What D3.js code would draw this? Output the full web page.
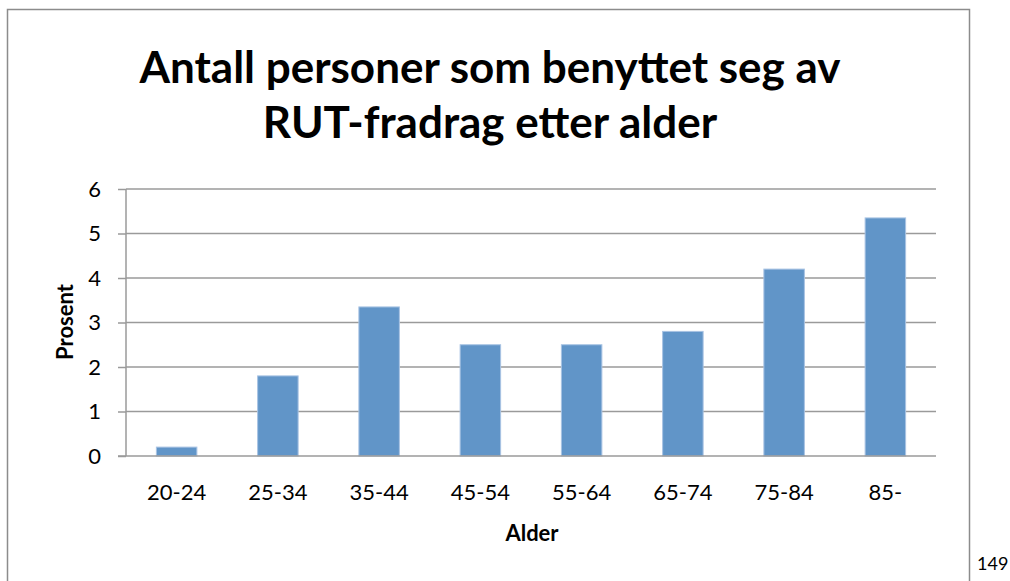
<!DOCTYPE html>
<html>
<head>
<meta charset="utf-8">
<script src="https://cdn.jsdelivr.net/npm/d3@7"></script>
<style>
  html, body { margin: 0; padding: 0; background: #fff; }
  svg { display: block; font-family: Lato, "Open Sans", sans-serif; }
</style>
</head>
<body>
<div id="chart"></div>
<script>
// Data
const categories = ["20-24", "25-34", "35-44", "45-54", "55-64", "65-74", "75-84", "85-"];
const values = [0.2, 1.8, 3.35, 2.5, 2.5, 2.8, 4.2, 5.35];
const yTicks = [0, 1, 2, 3, 4, 5, 6];
const titleLines = ["Antall personer som benyttet seg av", "RUT-fradrag etter alder"];

const W = 1010, H = 581;
const plot = { left: 126, right: 936, top: 189, bottom: 456 };

const svg = d3.select("#chart").append("svg")
  .attr("width", W)
  .attr("height", H);

// chart frame (bottom runs off the page)
svg.append("rect")
  .attr("x", 7.5).attr("y", 9.5)
  .attr("width", 962).attr("height", 620)
  .attr("fill", "none")
  .attr("stroke", "#8c8c8c")
  .attr("stroke-width", 1.5);

// title
svg.append("g").selectAll("text")
  .data(titleLines)
  .join("text")
  .attr("x", 490)
  .attr("y", (d, i) => 83 + i * 55)
  .attr("text-anchor", "middle")
  .attr("font-size", "44px")
  .attr("font-weight", "bold")
  .attr("fill", "#000")
  .text(d => d);

// scales
const x = d3.scaleBand()
  .domain(categories)
  .range([plot.left, plot.right])
  .paddingInner(0.6)
  .paddingOuter(0.3);

const y = d3.scaleLinear()
  .domain([0, 6])
  .range([plot.bottom, plot.top]);

// gridlines
svg.append("g")
  .selectAll("line")
  .data(yTicks.filter(t => t > 0))
  .join("line")
  .attr("x1", plot.left).attr("x2", plot.right)
  .attr("y1", d => y(d)).attr("y2", d => y(d))
  .attr("stroke", "#9a9a9a")
  .attr("stroke-width", 1.5);

// y axis
const yAxis = svg.append("g")
  .attr("transform", `translate(${plot.left},0)`)
  .call(d3.axisLeft(y).tickValues(yTicks).tickSize(8).tickPadding(17).tickFormat(d3.format("d")));
yAxis.select(".domain").attr("stroke", "#9a9a9a").attr("stroke-width", 1.5)
  .attr("d", `M0,${plot.top}V${plot.bottom}`);
yAxis.selectAll(".tick line").attr("stroke", "#9a9a9a").attr("stroke-width", 1.5);
yAxis.selectAll(".tick text")
  .attr("font-family", "Lato, sans-serif")
  .attr("font-size", "22px")
  .attr("fill", "#000");

// bars
svg.append("g")
  .selectAll("rect")
  .data(values)
  .join("rect")
  .attr("x", (d, i) => x(categories[i]))
  .attr("y", d => y(d))
  .attr("width", x.bandwidth())
  .attr("height", d => y(0) - y(d))
  .attr("fill", "#6195c8")
  .attr("stroke", "#a8c3e3")
  .attr("stroke-width", 1);

// x axis
const xAxis = svg.append("g")
  .attr("transform", `translate(0,${plot.bottom})`)
  .call(d3.axisBottom(x).tickSize(0).tickPadding(28));
xAxis.select(".domain").attr("stroke", "#9a9a9a").attr("stroke-width", 1.5)
  .attr("d", `M${plot.left - 8},0H${plot.right}`);
xAxis.selectAll(".tick text")
  .attr("font-family", "Lato, sans-serif")
  .attr("font-size", "22px")
  .attr("fill", "#000");

// axis titles
svg.append("text")
  .attr("transform", `translate(73,322) rotate(-90)`)
  .attr("text-anchor", "middle")
  .attr("font-size", "22px")
  .attr("font-weight", "bold")
  .text("Prosent");

svg.append("text")
  .attr("x", 532)
  .attr("y", 541)
  .attr("text-anchor", "middle")
  .attr("font-size", "22px")
  .attr("font-weight", "bold")
  .text("Alder");

// page number
svg.append("text")
  .attr("x", 977)
  .attr("y", 570)
  .attr("font-size", "18px")
  .text("149");
</script>
</body>
</html>
